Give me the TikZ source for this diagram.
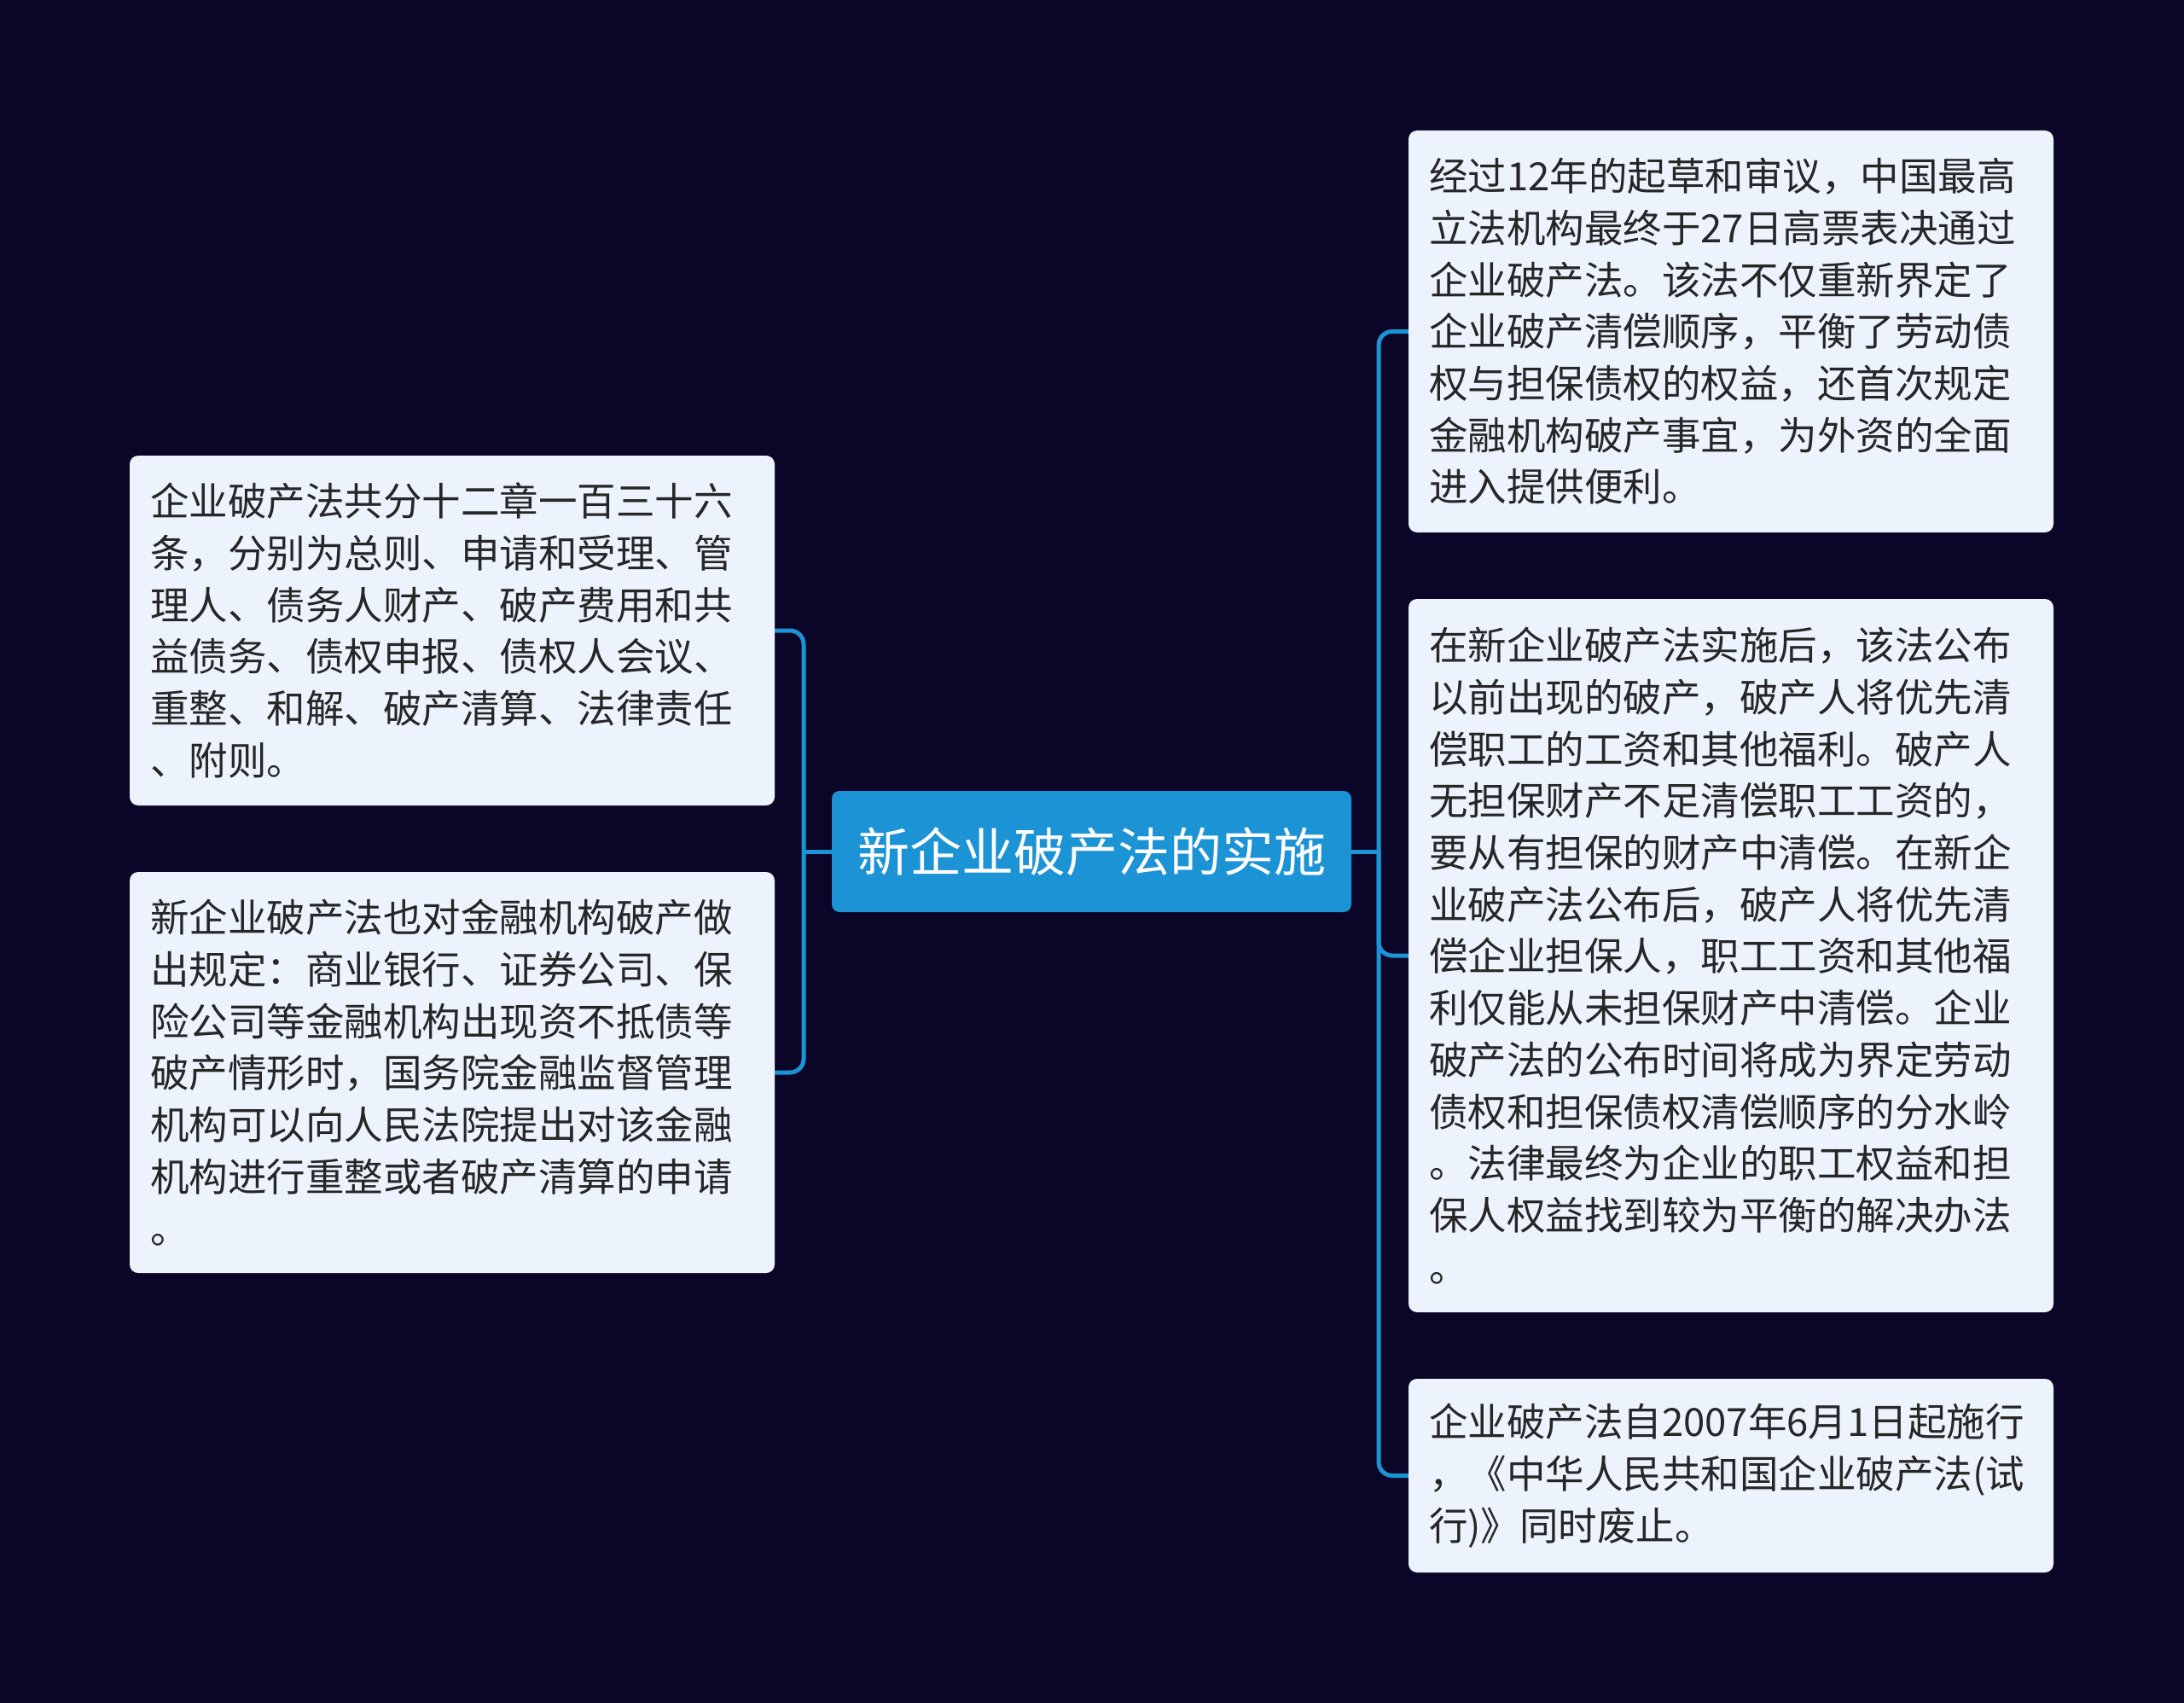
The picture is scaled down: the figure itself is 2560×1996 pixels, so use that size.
\documentclass[tikz,border=0pt]{standalone}
\usepackage{fontspec}
\setmainfont{Noto Sans CJK SC}
\definecolor{bgc}{HTML}{0B0628}
\definecolor{bluec}{HTML}{1B93D4}
\definecolor{boxc}{HTML}{EDF3FD}
\definecolor{txtc}{HTML}{262626}
\tikzset{
  leaf/.style={draw=none, fill=boxc, rounded corners=10pt, text=txtc, align=left,
    text width=708pt, inner xsep=24pt, inner ysep=4pt, minimum width=756pt,
    font=\fontsize{45.5pt}{60.7pt}\selectfont},
  rootbox/.style={fill=bluec, rounded corners=9pt, text=white, minimum width=609pt,
    minimum height=142pt, inner sep=0pt, font=\fontsize{61pt}{70pt}\selectfont},
  conn/.style={draw=bluec, line width=5pt, rounded corners=16pt}
}
\begin{document}
\begin{tikzpicture}[x=1pt,y=-1pt]
\fill[bgc] (0,0) rectangle (2560,1996);
\useasboundingbox (0,0) rectangle (2560,1996);
\coordinate (lj) at (942,998);
\coordinate (rj) at (1616,998);
\node[rootbox] (c) at (1279.5,998) {新企业破产法的实施};
\node[leaf, minimum height=410pt] (L1) at (530,739) {企业破产法共分十二章一百三十六\\条，分别为总则、申请和受理、管\\理人、债务人财产、破产费用和共\\益债务、债权申报、债权人会议、\\重整、和解、破产清算、法律责任\\、附则。};
\node[leaf, minimum height=470pt] (L2) at (530,1257) {新企业破产法也对金融机构破产做\\出规定：商业银行、证券公司、保\\险公司等金融机构出现资不抵债等\\破产情形时，国务院金融监督管理\\机构可以向人民法院提出对该金融\\机构进行重整或者破产清算的申请\\。};
\node[leaf, minimum height=471pt] (R1) at (2029,388.5) {经过12年的起草和审议，中国最高\\立法机构最终于27日高票表决通过\\企业破产法。该法不仅重新界定了\\企业破产清偿顺序，平衡了劳动债\\权与担保债权的权益，还首次规定\\金融机构破产事宜，为外资的全面\\进入提供便利。};
\node[leaf, minimum height=836pt] (R2) at (2029,1120) {在新企业破产法实施后，该法公布\\以前出现的破产，破产人将优先清\\偿职工的工资和其他福利。破产人\\无担保财产不足清偿职工工资的，\\要从有担保的财产中清偿。在新企\\业破产法公布后，破产人将优先清\\偿企业担保人，职工工资和其他福\\利仅能从未担保财产中清偿。企业\\破产法的公布时间将成为界定劳动\\债权和担保债权清偿顺序的分水岭\\。法律最终为企业的职工权益和担\\保人权益找到较为平衡的解决办法\\。};
\node[leaf, minimum height=227pt] (R3) at (2029,1729.5) {企业破产法自2007年6月1日起施行\\，《中华人民共和国企业破产法(试\\行)》同时废止。};
\begin{scope}[on background layer/.style={}]
\draw[conn] (L1.east) -| (lj) |- (L2.east);
\draw[conn] (c.west) -- (lj);
\draw[conn] (R1.west) -| (rj) |- (R3.west);
\draw[conn] (rj) |- (R2.west);
\draw[conn] (c.east) -- (rj);
\end{scope}
\end{tikzpicture}
\end{document}
